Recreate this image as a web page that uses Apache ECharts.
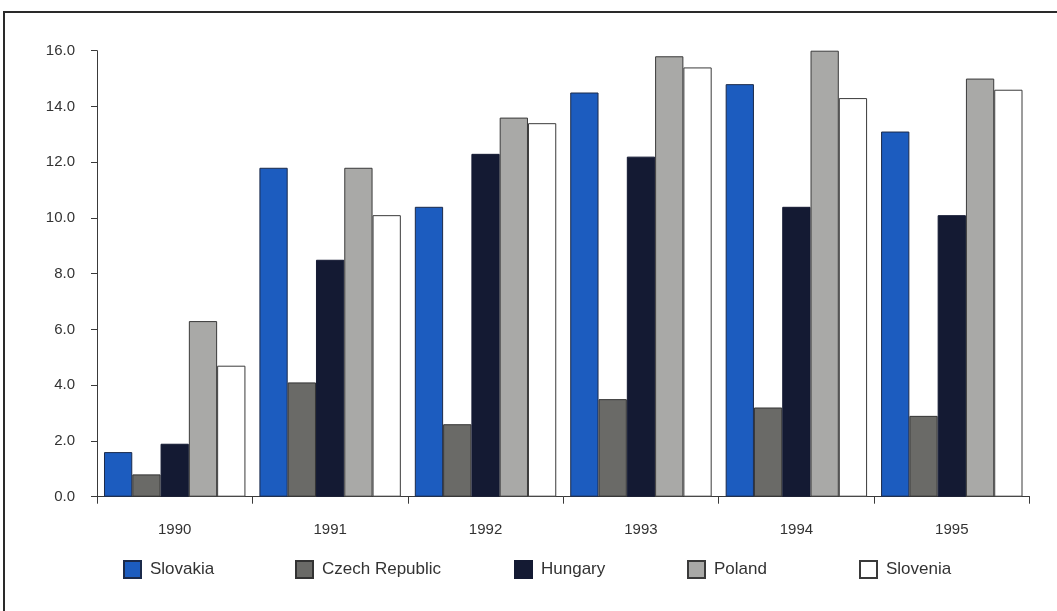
<!DOCTYPE html>
<html>
<head>
<meta charset="utf-8">
<script src="https://cdn.jsdelivr.net/npm/echarts@6/dist/echarts.min.js"></script>
<style>
  html, body { margin: 0; padding: 0; background: #ffffff; }
  #chart { width: 1057px; height: 611px; }
</style>
</head>
<body>
<div id="chart"></div>
<script>
// Years on the category axis
const years = ['1990', '1991', '1992', '1993', '1994', '1995'];

// Values per country, one per year
const slovakia = [1.6, 11.8, 10.4, 14.5, 14.8, 13.1];
const czechRepublic = [0.8, 4.1, 2.6, 3.5, 3.2, 2.9];
const hungary = [1.9, 8.5, 12.3, 12.2, 10.4, 10.1];
const poland = [6.3, 11.8, 13.6, 15.8, 16.0, 15.0];
const slovenia = [4.7, 10.1, 13.4, 15.4, 14.3, 14.6];

// Value axis range
const yMin = 0, yMax = 16, yStep = 2;

const countries = [
  { name: 'Slovakia', data: slovakia, color: '#1c5cbf', border: '#1b2a4a', legendLeft: 123 },
  { name: 'Czech Republic', data: czechRepublic, color: '#6a6a67', border: '#333333', legendLeft: 295 },
  { name: 'Hungary', data: hungary, color: '#141a33', border: '#141a33', legendLeft: 514 },
  { name: 'Poland', data: poland, color: '#a9a9a7', border: '#3a3a3a', legendLeft: 687 },
  { name: 'Slovenia', data: slovenia, color: '#ffffff', border: '#3a3a3a', legendLeft: 859 }
];

const chart = echarts.init(document.getElementById('chart'));

const textColor = '#333333';
const axisColor = '#3a3a3a';
const fontFamily = 'Liberation Sans, Arial, sans-serif';

chart.setOption({
  backgroundColor: '#ffffff',
  animation: false,
  graphic: [{
    // page frame (right and bottom edges run off the canvas)
    type: 'rect',
    shape: { x: 4, y: 12, width: 1080, height: 640 },
    style: { fill: 'none', stroke: '#2a2a2a', lineWidth: 2 },
    silent: true
  }],
  legend: countries.map(c => ({
    data: [c.name],
    left: c.legendLeft,
    top: 560,
    padding: 0,
    itemWidth: 17,
    itemHeight: 17,
    icon: 'rect',
    selectedMode: false,
    textStyle: { color: textColor, fontSize: 17, fontFamily: fontFamily, padding: [0, 0, 0, 4] }
  })),
  grid: { left: 97, right: 27.5, top: 50.7, bottom: 114.3, containLabel: false },
  xAxis: {
    type: 'category',
    data: years,
    axisLine: { lineStyle: { color: axisColor, width: 1 } },
    axisTick: { show: true, length: 7, lineStyle: { color: axisColor } },
    axisLabel: { color: textColor, fontSize: 15, fontFamily: fontFamily, margin: 26 },
    splitLine: { show: false }
  },
  yAxis: {
    type: 'value',
    min: yMin,
    max: yMax,
    interval: yStep,
    axisLine: { show: true, lineStyle: { color: axisColor, width: 1 } },
    axisTick: { show: true, length: 6, lineStyle: { color: axisColor } },
    axisLabel: {
      color: textColor, fontSize: 15, fontFamily: fontFamily, margin: 22,
      formatter: v => v.toFixed(1)
    },
    splitLine: { show: false }
  },
  series: countries.map(c => ({
    name: c.name,
    type: 'bar',
    data: c.data,
    barGap: '0%',
    barCategoryGap: '9%',
    itemStyle: { color: c.color, borderColor: c.border, borderWidth: 1 }
  }))
});
</script>
</body>
</html>
